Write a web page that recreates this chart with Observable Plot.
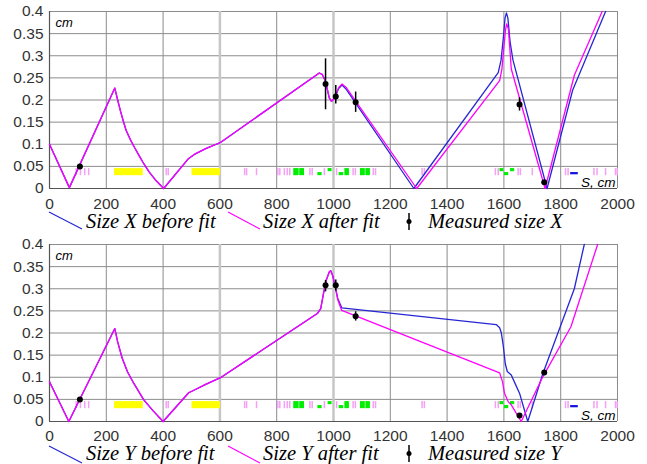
<!DOCTYPE html>
<html><head><meta charset="utf-8">
<script src="https://cdn.jsdelivr.net/npm/d3@7"></script>
<script src="https://cdn.jsdelivr.net/npm/@observablehq/plot@0.6"></script>
<style>
body{margin:0;background:#fff;}
#chart{width:647px;}
.panel{width:647px;height:232px;position:relative;}
.panel > svg{display:block;}
.legend{position:absolute;left:0;top:210px;}
.legend text{font-family:"Liberation Serif","Times New Roman",serif;font-style:italic;font-size:20.5px;fill:#000;}
</style></head><body><div id="chart"></div>
<script>
// ---------- axes ----------
const xTicks = [0,200,400,600,800,1000,1200,1400,1600,1800,2000];
const yTicks = [0,0.05,0.1,0.15,0.2,0.25,0.3,0.35,0.4];
const yTickLabels = ["0","0.05","0.1","0.15","0.2","0.25","0.3","0.35","0.4"];
const emphGrid = [600,1000];

// ---------- panel X ----------
const xBeforeS = [0,70,230,240,250,260,270,285,300,315,332,350,375,402,490,510,550,602,950,960,972,985,993,1005,1018,1030,1045,1283,1580,1590,1598,1604,1609,1614,1622,1632,1752,1842,1958];
const xBeforeV = [0.100,0.002,0.227,0.200,0.175,0.152,0.131,0.110,0.092,0.075,0.056,0.038,0.018,0.0,0.068,0.077,0.090,0.104,0.261,0.258,0.242,0.205,0.197,0.205,0.226,0.234,0.224,0.0,0.262,0.290,0.340,0.385,0.397,0.385,0.330,0.290,0.0,0.222,0.4];
const xAfterS = [0,70,230,240,250,260,270,285,300,315,332,350,375,402,490,510,550,602,950,960,972,985,993,1005,1018,1030,1045,1293,1585,1593,1600,1606,1610,1616,1626,1745,1848,1946];
const xAfterV = [0.100,0.002,0.227,0.200,0.175,0.152,0.131,0.110,0.092,0.075,0.056,0.038,0.018,0.0,0.068,0.077,0.090,0.104,0.261,0.258,0.242,0.205,0.197,0.205,0.228,0.236,0.228,0.0,0.244,0.270,0.320,0.360,0.372,0.360,0.270,0.0,0.256,0.4];
const measXs  = [107,972,1008,1078,1655,1742];
const measXv  = [0.050,0.236,0.208,0.195,0.190,0.014];
const measXlo = [0.047,0.178,0.191,0.172,0.175,0.011];
const measXhi = [0.053,0.293,0.233,0.218,0.205,0.017];

// ---------- panel Y ----------
const yBeforeS = [0,68,230,240,256,275,297,315,332,365,400,490,503,550,602,943,955,965,975,985,990,997,1006,1015,1029,1573,1585,1591,1598,1605,1612,1626,1640,1655,1684,1737,1848,1883];
const yBeforeV = [0.090,0.0,0.210,0.180,0.143,0.112,0.086,0.067,0.049,0.024,0.0,0.065,0.069,0.084,0.099,0.244,0.255,0.290,0.320,0.338,0.341,0.330,0.305,0.278,0.257,0.219,0.212,0.200,0.170,0.130,0.113,0.105,0.085,0.064,0.0,0.108,0.300,0.4];
const yAfterS = [0,68,230,240,256,275,297,315,332,365,400,490,503,550,602,943,955,965,975,985,990,997,1006,1015,1029,1585,1595,1602,1615,1626,1661,1737,1836,1930];
const yAfterV = [0.090,0.0,0.210,0.180,0.143,0.112,0.086,0.067,0.049,0.024,0.0,0.065,0.069,0.084,0.099,0.244,0.255,0.290,0.320,0.338,0.341,0.330,0.305,0.275,0.251,0.110,0.090,0.064,0.045,0.0375,0.0,0.101,0.214,0.4];
const measYs  = [107,972,1008,1078,1655,1742];
const measYv  = [0.0495,0.308,0.308,0.238,0.0135,0.111];
const measYlo = [0.047,0.293,0.295,0.227,0.011,0.108];
const measYhi = [0.052,0.319,0.320,0.248,0.016,0.114];

// ---------- lattice elements ----------
const dipoleStart = [229,502];
const dipoleEnd   = [330,602];
const quadStart = [860,881,1040,1095,1114];
const quadEnd   = [879,898,1056,1112,1130];
const quadHiStart = [981,1586,1623];
const quadHiEnd   = [995,1600,1638];
const quadLoStart = [945,1020,1602];
const quadLoEnd   = [960,1036,1617];
const blueElStart = [1835];
const blueElEnd   = [1862];
const thinElements = [94,109,124,138,411,418,687,694,729,804,811,827,837,846,917,925,968,1011,1069,1077,1140,1148,1312,1320,1570,1580,1650,1658,1700,1817,1826,1917,1928,1958,1993,1999];
const elLow = 0.029, elHigh = 0.045, elMid = 0.037;

const zip = (s, v) => s.map((d, i) => ({s: d, v: v[i]}));
const spans = (a, b, y1, y2) => a.map((d, i) => ({x1: d, x2: b[i], y1, y2}));

const BLUE = "#2626d4", MAG = "#ff00ff";

function panel(cfg) {
  const meas = cfg.ms.map((d, i) => ({s: d, v: cfg.mv[i], lo: cfg.mlo[i], hi: cfg.mhi[i]}));
  const H = 232;
  const plot = Plot.plot({
    width: 647, height: H,
    marginLeft: 49, marginRight: 30, marginTop: cfg.mt, marginBottom: H - cfg.mt - 177,
    style: {fontFamily: "'Liberation Sans', Arial, sans-serif", fontSize: "15.5px", color: "#333", background: "#fff"},
    x: {domain: [0, 2000], ticks: xTicks, tickSize: 0, tickPadding: cfg.tp, label: null, tickFormat: d => String(d)},
    y: {domain: [0, 0.4], ticks: yTicks, tickSize: 0, tickPadding: 6, label: null, tickFormat: d => yTickLabels[yTicks.indexOf(d)]},
    marks: [
      Plot.ruleX(xTicks, {stroke: "#8c8c8c", strokeWidth: 1}),
      Plot.ruleY(yTicks, {stroke: "#8c8c8c", strokeWidth: 1}),
      Plot.ruleX(emphGrid, {stroke: "#c6c6c6", strokeWidth: 2.5}),
      Plot.ruleX([0], {stroke: "#555", strokeWidth: 1.2}),
      Plot.ruleY([0], {stroke: "#555", strokeWidth: 1.2}),
      // lattice elements
      Plot.ruleX(thinElements, {y1: elLow, y2: elHigh, stroke: "#f4a0f4", strokeWidth: 1.5}),
      Plot.rect(spans(dipoleStart, dipoleEnd, elLow, elHigh), {x1: "x1", x2: "x2", y1: "y1", y2: "y2", fill: "#ffff00"}),
      Plot.rect(spans(quadStart, quadEnd, elLow, elHigh), {x1: "x1", x2: "x2", y1: "y1", y2: "y2", fill: "#00ee00"}),
      Plot.rect(spans(quadHiStart, quadHiEnd, elMid + 0.001, elHigh), {x1: "x1", x2: "x2", y1: "y1", y2: "y2", fill: "#00ee00"}),
      Plot.rect(spans(quadLoStart, quadLoEnd, elLow, elMid - 0.001), {x1: "x1", x2: "x2", y1: "y1", y2: "y2", fill: "#00ee00"}),
      Plot.rect(spans(blueElStart, blueElEnd, 0.031, 0.036), {x1: "x1", x2: "x2", y1: "y1", y2: "y2", fill: "#1010e0"}),
      // curves
      Plot.line(zip(cfg.bs, cfg.bv), {x: "s", y: "v", stroke: BLUE, strokeWidth: 1.3}),
      Plot.line(zip(cfg.as, cfg.av), {x: "s", y: "v", stroke: MAG, strokeWidth: 1.3}),
      // measurements
      Plot.ruleX(meas, {x: "s", y1: "lo", y2: "hi", stroke: "#000", strokeWidth: 1.5}),
      Plot.dot(meas, {x: "s", y: "v", r: 3, fill: "#000"}),
      // labels
      Plot.text(["cm"], {frameAnchor: "top-left", textAnchor: "start", lineAnchor: "bottom", dx: 6, dy: 15, fontStyle: "italic", fontSize: 13, fill: "#000"}),
      Plot.text(["S, cm"], {frameAnchor: "bottom-right", textAnchor: "end", lineAnchor: "bottom", dx: -2, dy: -2, fontStyle: "italic", fontSize: 13.5, fill: "#000"})
    ]
  });
  const div = document.createElement("div");
  div.className = "panel";
  div.appendChild(plot);
  const leg = d3.create("svg").attr("class", "legend").attr("width", 647).attr("height", 22);
  leg.append("line").attr("x1", 49).attr("y1", cfg.ly).attr("x2", 82).attr("y2", cfg.ly + 17).attr("stroke", BLUE).attr("stroke-width", 1.2);
  leg.append("text").attr("x", 86).attr("y", 18).text(cfg.names[0]);
  leg.append("line").attr("x1", 228).attr("y1", cfg.ly).attr("x2", 260).attr("y2", cfg.ly + 17).attr("stroke", MAG).attr("stroke-width", 1.2);
  leg.append("text").attr("x", 263).attr("y", 18).text(cfg.names[1]);
  leg.append("line").attr("x1", 409).attr("y1", 3).attr("x2", 409).attr("y2", 20).attr("stroke", "#000").attr("stroke-width", 1.5);
  leg.append("circle").attr("cx", 409).attr("cy", 11.5).attr("r", 2.5).attr("fill", "#000");
  leg.append("text").attr("x", 428).attr("y", 18).text(cfg.names[2]);
  div.appendChild(leg.node());
  return div;
}

const root = document.getElementById("chart");
root.appendChild(panel({mt: 11, tp: 9, ly: 2, bs: xBeforeS, bv: xBeforeV, as: xAfterS, av: xAfterV,
  ms: measXs, mv: measXv, mlo: measXlo, mhi: measXhi,
  names: ["Size X before fit", "Size X after fit", "Measured size X"]}));
root.appendChild(panel({mt: 12, tp: 8, ly: 4, bs: yBeforeS, bv: yBeforeV, as: yAfterS, av: yAfterV,
  ms: measYs, mv: measYv, mlo: measYlo, mhi: measYhi,
  names: ["Size Y before fit", "Size Y after fit", "Measured size Y"]}));
</script>
</body></html>
